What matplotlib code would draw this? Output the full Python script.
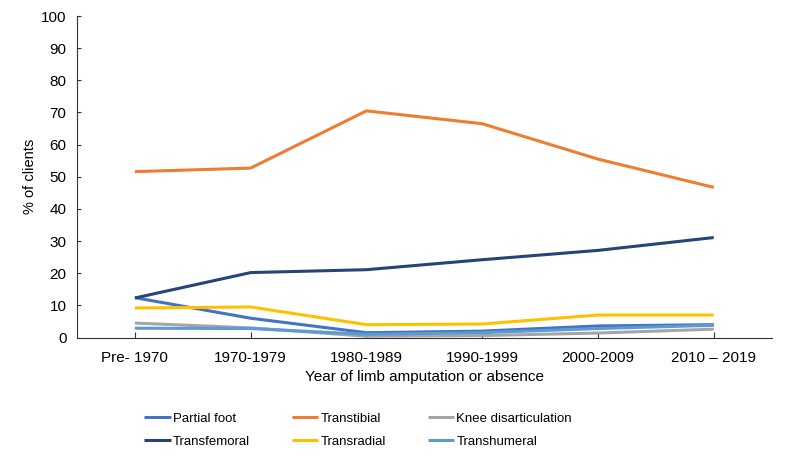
import matplotlib

matplotlib.use("Agg")
import matplotlib.pyplot as plt

plt.rcParams["font.family"] = ["Liberation Sans", "DejaVu Sans"]
plt.rcParams["font.size"] = 11

periods = ["Pre- 1970", "1970-1979", "1980-1989", "1990-1999", "2000-2009", "2010 \u2013 2019"]

partial_foot = [12.4, 6.0, 1.5, 2.0, 3.6, 4.0]
transtibial = [51.6, 52.7, 70.5, 66.5, 55.5, 46.7]
knee_disartic = [4.5, 3.0, 0.4, 0.6, 1.4, 2.6]
transfemoral = [12.3, 20.2, 21.1, 24.2, 27.1, 31.1]
transradial = [9.2, 9.5, 4.0, 4.2, 7.0, 7.0]
transhumeral = [2.9, 2.8, 1.0, 1.5, 2.8, 3.8]

series = [
    ("Partial foot", partial_foot, "#4472C4"),
    ("Transtibial", transtibial, "#ED7D31"),
    ("Knee disarticulation", knee_disartic, "#A5A5A5"),
    ("Transfemoral", transfemoral, "#264478"),
    ("Transradial", transradial, "#FFC000"),
    ("Transhumeral", transhumeral, "#5B9BD5"),
]

fig = plt.figure(figsize=(7.89, 4.63), dpi=100)
ax = fig.add_axes([0.0976, 0.271, 0.8804, 0.6944])

x = list(range(len(periods)))
handles = {}
for name, vals, color in series:
    (ln,) = ax.plot(x, vals, color=color, linewidth=2.2, label=name,
                    solid_capstyle="butt", solid_joinstyle="round")
    handles[name] = ln

ax.set_xlim(-0.5, len(periods) - 0.5)
ax.set_ylim(0, 100)
ax.set_yticks(range(0, 101, 10))
ax.set_xticks(x)
ax.set_xticklabels(periods)

for side in ["top", "right"]:
    ax.spines[side].set_visible(False)
for side in ["left", "bottom"]:
    ax.spines[side].set_linewidth(0.8)
    ax.spines[side].set_color("#333333")

ax.tick_params(axis="y", direction="in", length=3, width=0.8, pad=7.5, colors="#333333", labelcolor="black")
ax.tick_params(axis="x", direction="in", length=4, width=0.8, pad=10, colors="#333333", labelcolor="black")

ax.set_xlabel("Year of limb amputation or absence", labelpad=3)
ax.set_ylabel("% of clients", fontsize=10.5, labelpad=3)

# column-wise fill so rows read: PF/TT/Knee, TF/TR/TH
order = ["Partial foot", "Transfemoral", "Transtibial", "Transradial",
         "Knee disarticulation", "Transhumeral"]
fig.legend([handles[n] for n in order], order, ncol=3, loc="center",
           bbox_to_anchor=(0.454, 0.071), frameon=False, fontsize=9.5,
           handlelength=2.0, handletextpad=0.15, columnspacing=3.2,
           labelspacing=0.8)

fig.savefig("out.png", dpi=100)
